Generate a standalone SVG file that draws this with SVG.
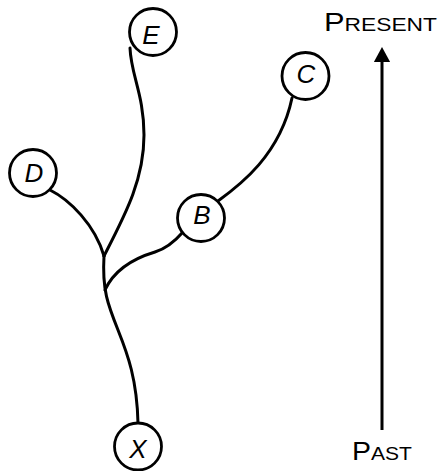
<svg xmlns="http://www.w3.org/2000/svg" width="441" height="471" viewBox="0 0 441 471">
  <style>
    .edge { fill: none; stroke: #000; stroke-width: 3; stroke-linecap: round; }
    .node circle { fill: #fff; stroke: #000; stroke-width: 2.8; }
    .node text { font-family: "Liberation Sans", Arial, sans-serif; font-style: italic; font-size: 26px; text-anchor: middle; fill: #000; }
    .axis-label { font-family: "Liberation Sans", Arial, sans-serif; fill: #000; }
    .cap { font-size: 25px; }
    .sc { font-size: 18.5px; }
  </style>
  <defs>
    <marker id="arrowhead" markerWidth="5" markerHeight="5.4" refX="0" refY="2.7" orient="auto" markerUnits="strokeWidth">
      <path d="M0,0 L5,2.7 L0,5.4 Z" fill="#000"/>
    </marker>
  </defs>

  <!-- branching lineage curves -->
  <g id="connectors">
    <path class="edge" d="M130,48 C131,75 144,95 144,135 C144,180 125,215 104,256"/>
    <path class="edge" d="M50,190 C70,200 95,225 104,256"/>
    <path class="edge" d="M104,256 C102,290 108,305 118,330 C128,355 137,380 138,423"/>
    <path class="edge" d="M105,290 C115,268 135,258 155,252 C168,248 176,240 183,232"/>
    <path class="edge" d="M218,201 C240,185 280,155 292,98"/>
  </g>

  <g id="node-E" class="node">
    <circle cx="153" cy="32" r="23.5"/>
    <text x="151" y="43.5">E</text>
  </g>
  <g id="node-D" class="node">
    <circle cx="33" cy="173" r="23.5"/>
    <text x="34" y="181.5">D</text>
  </g>
  <g id="node-C" class="node">
    <circle cx="305.5" cy="76" r="23.5"/>
    <text x="306" y="83">C</text>
  </g>
  <g id="node-B" class="node">
    <circle cx="201" cy="218" r="23.5"/>
    <text x="202" y="224">B</text>
  </g>
  <g id="node-X" class="node">
    <circle cx="138" cy="446.5" r="23.5"/>
    <text x="138" y="458">X</text>
  </g>

  <!-- time axis -->
  <g id="time-axis">
    <line x1="382" y1="430" x2="382" y2="62" stroke="#000" stroke-width="3" marker-end="url(#arrowhead)"/>
    <text class="axis-label" x="324" y="31" textLength="113" lengthAdjust="spacingAndGlyphs"><tspan class="cap">P</tspan><tspan class="sc">RESENT</tspan></text>
    <text class="axis-label" x="352" y="459.5" textLength="60" lengthAdjust="spacingAndGlyphs"><tspan class="cap">P</tspan><tspan class="sc">AST</tspan></text>
  </g>
</svg>
